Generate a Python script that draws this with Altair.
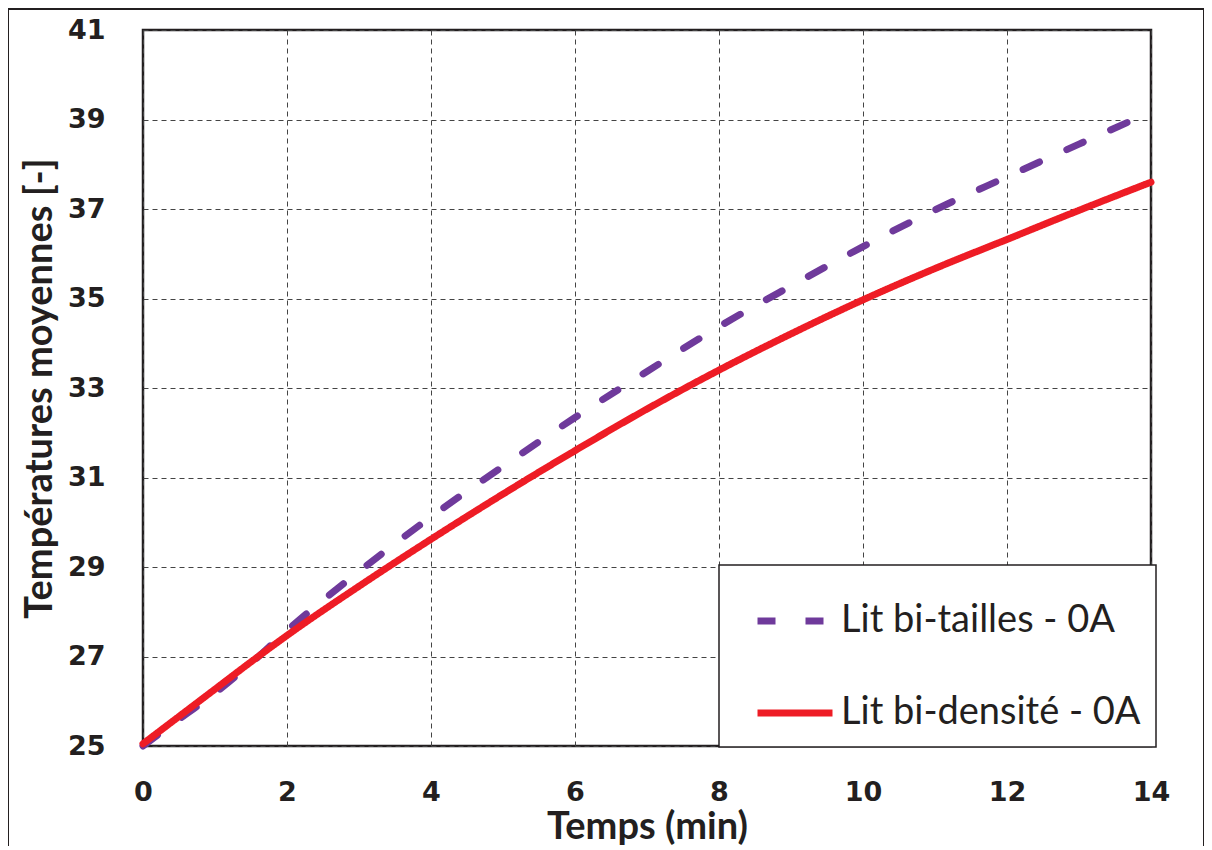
import altair as alt
import pandas as pd

# Time (min)
t_bt = [0, 0.5, 1, 1.5, 2, 3, 4, 5, 6, 7, 8, 9, 10, 11, 12, 13, 14]
bi_tailles = [25.0, 25.6, 26.18, 26.85, 27.58, 28.9, 30.12, 31.25, 32.34, 33.37,
              34.37, 35.28, 36.16, 36.98, 37.72, 38.45, 39.17]
t_bd = [0, 0.5, 1, 1.5, 2, 3, 4, 5, 6, 7, 8, 9, 10, 11, 12, 13, 14]
bi_densite = [25.05, 25.66, 26.27, 26.88, 27.47, 28.57, 29.62, 30.63, 31.6, 32.53,
              33.4, 34.21, 34.97, 35.67, 36.32, 36.97, 37.6]

series_names = ["Lit bi-tailles - 0A", "Lit bi-densité - 0A"]
x_ticks = [0, 2, 4, 6, 8, 10, 12, 14]
y_ticks = [25, 27, 29, 31, 33, 35, 37, 39, 41]

df = pd.concat([
    pd.DataFrame({"t": t_bt, "T": bi_tailles, "serie": series_names[0]}),
    pd.DataFrame({"t": t_bd, "T": bi_densite, "serie": series_names[1]}),
])

x_enc = alt.X("t:Q", scale=alt.Scale(domain=[0, 14], nice=False),
              axis=alt.Axis(values=x_ticks, title="Temps (min)", grid=True,
                            labelPadding=33, titlePadding=3, labelFlush=False))
y_enc = alt.Y("T:Q", scale=alt.Scale(domain=[25, 41], nice=False),
              axis=alt.Axis(values=y_ticks, title="Températures moyennes [-]", grid=True,
                            labelPadding=38, titlePadding=8, titleY=358, labelFlush=False))
color_enc = alt.Color("serie:N",
                      scale=alt.Scale(domain=series_names, range=["#6F3A9B", "#EE1C25"]),
                      legend=alt.Legend(title=None, orient="none", legendX=576, legendY=535,
                                        padding=15, rowPadding=32, symbolOffset=20,
                                        symbolType="stroke", symbolSize=5625,
                                        symbolStrokeWidth=7, labelOffset=5,
                                        labelFontSize=38, labelFont="Lato",
                                        labelColor="#231f20",
                                        labelExpr="datum.label + '    '",
                                        strokeColor="#231f20", fillColor="white",
                                        labelLimit=500))
dash_enc = alt.StrokeDash("serie:N",
                          scale=alt.Scale(domain=series_names, range=[[18, 30], [1, 0]]),
                          legend=None)

base = alt.Chart(df)
purple = base.transform_filter(alt.datum.serie == series_names[0]).mark_line(
    strokeWidth=7, strokeCap="round", strokeJoin="round", interpolate="monotone"
).encode(x=x_enc, y=y_enc, color=color_enc, strokeDash=dash_enc)
red = base.transform_filter(alt.datum.serie == series_names[1]).mark_line(
    strokeWidth=7, strokeCap="round", strokeJoin="round", interpolate="monotone"
).encode(x=x_enc, y=y_enc, color=color_enc, strokeDash=dash_enc)

frame = alt.Chart(pd.DataFrame({"k": [0]})).mark_rect(
    fill=None, stroke="#231f20", strokeWidth=2
).encode(x=alt.value(-135), x2=alt.value(1061), y=alt.value(-21), y2=alt.value(830))

chart = alt.layer(frame, purple, red).resolve_scale(color="shared", strokeDash="shared").properties(
    width=1008, height=716,
    autosize=alt.AutoSizeParams(type="none"),
    padding={"left": 135, "top": 22, "right": 53, "bottom": 100},
).configure_view(
    stroke="#231f20", strokeWidth=2.5
).configure_axis(
    gridColor="#444444", gridDash=[5, 4], gridWidth=1, gridOpacity=1,
    domain=False, ticks=False,
    labelFont="DejaVu Sans", labelFontWeight="bold", labelFontSize=27, labelColor="#231f20",
    titleFont="Lato", titleFontWeight="bold", titleFontSize=38, titleColor="#231f20",
).configure_legend(
    strokeWidth=1.5
)

chart.save("out.html", embed_options={"renderer": "svg", "actions": False})
